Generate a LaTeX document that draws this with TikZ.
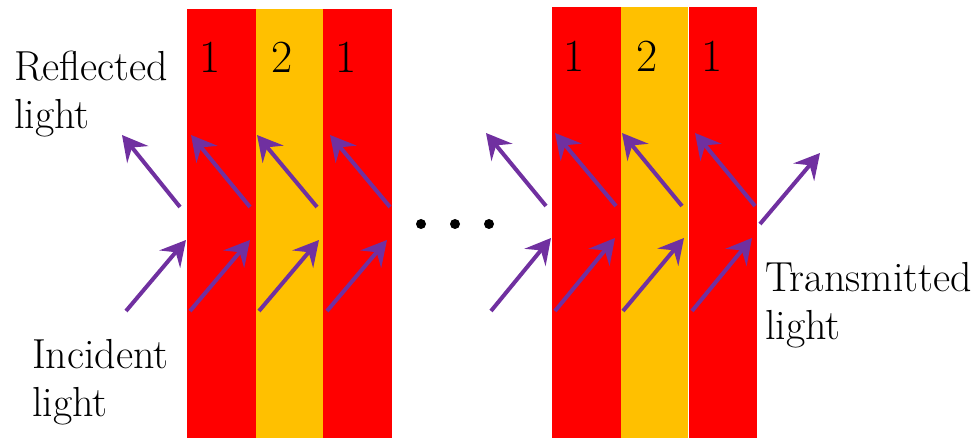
\documentclass[tikz,border=0pt]{standalone}
\usepackage{fontspec}
\usetikzlibrary{arrows.meta}
\definecolor{layerred}{HTML}{FF0000}
\definecolor{layeryellow}{HTML}{FFC000}
\definecolor{lightpurple}{HTML}{7030A0}
\begin{document}
\begin{tikzpicture}[x=1pt,y=-1pt,
  ray/.style={draw=lightpurple,line width=4pt,-{Stealth[length=25pt,width=27pt,inset=9pt]}},
  label/.style={font=\fontsize{42}{48}\selectfont,align=left,inner sep=0pt,anchor=north west},
  digit/.style={font=\fontsize{46}{48}\selectfont,inner sep=0pt,anchor=base},
  dotc/.style={fill=black,circle,inner sep=0pt,minimum size=10pt}]
\useasboundingbox (0,0) rectangle (972,438);
% left stack
\fill[layerred] (187,9) rectangle (256,438);
\fill[layeryellow] (256,9) rectangle (323,438);
\fill[layerred] (323,9) rectangle (392,438);
% right stack
\fill[layerred] (552,7) rectangle (621,438);
\fill[layeryellow] (621,7) rectangle (688,438);
\fill[layerred] (689,7) rectangle (757,438);
% layer numbers
\node[digit] (d1) at (210,73) {1};
\node[digit] (d2) at (282,73) {2};
\node[digit] (d3) at (346,73) {1};
\node[digit] (d4) at (574,72) {1};
\node[digit] (d5) at (647,72) {2};
\node[digit] (d6) at (712,72) {1};
% labels
\node[label] (refl) at (14,51) {Reflected\\light};
\node[label] (inc) at (32,339) {Incident\\light};
\node[label] (trans) at (765,262) {Transmitted\\light};
% dots
\node[dotc] (dot1) at (421,224) {};
\node[dotc] (dot2) at (455,224) {};
\node[dotc] (dot3) at (489,224) {};
% ray coordinates
\foreach \n/\sx/\sy/\tx/\ty in {
  ra/180/207/122/135, rb/250/207/191/135, rc/317/207/257/135, rd/390/207/330/135,
  ia/126/311/186/240, ib/190/311/250/240, ic/259/311/319/240, id/327/311/387/240,
  re/546/206/486/133, rf/616/206/555/133, rg/682/206/622/133, rh/755/206/695/133,
  ie/491/311/551/238, if/555/311/615/238, ig/623/311/684/238, ih/692/311/752/238,
  tr/760/224/820/153}{
  \coordinate (\n s) at (\sx,\sy);
  \coordinate (\n t) at (\tx,\ty);
  \draw[ray] (\n s) -- (\n t);
}
\end{tikzpicture}
\end{document}
